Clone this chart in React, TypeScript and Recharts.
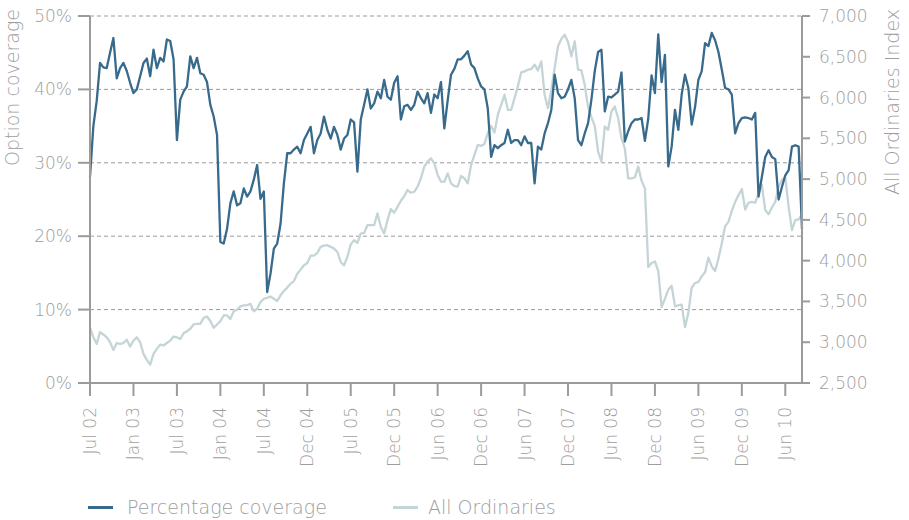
import { LineChart, Line, XAxis, YAxis, CartesianGrid } from 'recharts'

// tick labels, one every 13 points (26 weeks)
const tickLabels = [
  'Jul 02', 'Jan 03', 'Jul 03', 'Jan 04', 'Jul 04', 'Dec 04', 'Jul 05', 'Dec 05', 'Jun 06',
  'Dec 06', 'Jun 07', 'Dec 07', 'Jun 08', 'Dec 08', 'Jun 09', 'Dec 09', 'Jun 10'
]

// option coverage (%), fortnightly from Jul 2002
const coverage = [
  28.1, 35, 38.4, 43.6, 43, 42.9, 45, 47, 41.5, 42.9, 43.6, 42.5, 40.9,
  39.5, 40, 41.8, 43.6, 44.2, 41.8, 45.4, 42.9, 44.3, 43.8, 46.8, 46.6, 44.1,
  33.1, 38.6, 39.7, 40.4, 44.5, 42.9, 44.3, 42.2, 42, 41, 37.9, 36.3, 33.8,
  19.2, 19, 21, 24.5, 26.1, 24.2, 24.5, 26.5, 25.4, 26.1, 27.7, 29.7, 25.1,
  26.1, 12.4, 14.9, 18.3, 19, 21.7, 27.2, 31.3, 31.3, 31.8, 32.2, 31.3, 33.1,
  34, 34.9, 31.3, 33.1, 34, 36.3, 34.5, 33.3, 34.9, 33.8, 31.8, 33.3, 33.8,
  35.9, 35.5, 28.8, 35.9, 37.9, 40, 37.4, 38.1, 39.7, 38.8, 41.3, 39, 38.6,
  40.9, 41.8, 35.9, 37.7, 37.9, 37.2, 37.9, 39.7, 38.8, 38.1, 39.5, 36.8, 39.3,
  38.8, 41, 34.7, 38.5, 42, 42.8, 44.1, 44.1, 44.6, 45.2, 43.4, 42.9, 41.5,
  40.4, 40, 37.4, 30.8, 32.4, 32, 32.4, 32.7, 34.5, 32.7, 33.1, 33.1, 32.4,
  33.6, 32.7, 32.7, 27.2, 32.2, 31.8, 34, 35.4, 37.2, 42, 39.5, 38.8, 39,
  40, 41.3, 38.8, 33.1, 32.4, 34, 35.4, 38.6, 42.5, 45.1, 45.4, 37, 39,
  38.9, 39.3, 39.7, 42.3, 32.9, 34.3, 35.4, 35.9, 35.9, 36.1, 33, 36, 41.9,
  39.5, 47.5, 41, 44.7, 29.5, 32.2, 37.2, 34.5, 39.3, 42, 40.2, 35.2, 37.6,
  41.3, 42.5, 46.3, 45.9, 47.7, 46.7, 45.1, 42.7, 40.2, 40, 39.3, 34, 35.4,
  36.1, 36.2, 36.1, 35.9, 36.8, 25.4, 28.1, 30.8, 31.7, 30.8, 30.5, 25, 26.7,
  28.3, 29, 32.2, 32.4, 32.2, 21
]

// All Ordinaries index, same dates
const allOrds = [
  3180, 3060, 2980, 3123, 3095, 3060, 3000, 2906, 2990, 2980, 2990, 3030, 2947,
  3020, 3060, 3000, 2857, 2783, 2725, 2857, 2918, 2970, 2960, 2990, 3020, 3070,
  3060, 3040, 3110, 3135, 3165, 3218, 3225, 3225, 3300, 3316, 3260, 3177, 3218,
  3258, 3328, 3328, 3287, 3380, 3398, 3440, 3451, 3455, 3470, 3380, 3410, 3492,
  3533, 3545, 3560, 3533, 3505, 3575, 3628, 3670, 3718, 3750, 3840, 3890, 3943,
  3972, 4062, 4062, 4095, 4170, 4185, 4190, 4169, 4148, 4107, 3984, 3943, 4046,
  4200, 4250, 4218, 4333, 4340, 4435, 4435, 4435, 4580, 4415, 4333, 4497, 4632,
  4587, 4660, 4735, 4792, 4866, 4833, 4845, 4907, 5010, 5153, 5214, 5255, 5194,
  5050, 4968, 4968, 5070, 4948, 4915, 4907, 5038, 5010, 4948, 5173, 5296, 5419,
  5407, 5431, 5563, 5653, 5571, 5788, 5911, 6034, 5850, 5850, 5993, 6137, 6309,
  6321, 6342, 6350, 6403, 6333, 6444, 6034, 5870, 6096, 6362, 6629, 6719, 6770,
  6680, 6506, 6690, 6342, 6333, 6157, 5882, 5760, 5653, 5337, 5214, 5645, 5604,
  5829, 5891, 5747, 5501, 5378, 5010, 5010, 5022, 5153, 4981, 4886, 3923, 3972,
  3990, 3873, 3430, 3533, 3644, 3693, 3440, 3451, 3460, 3185, 3360, 3668, 3726,
  3738, 3808, 3857, 4037, 3931, 3873, 4025, 4210, 4423, 4476, 4612, 4718, 4804,
  4878, 4628, 4710, 4722, 4710, 4825, 4927, 4620, 4570, 4652, 4722, 4907, 4989,
  5022, 4660, 4374, 4497, 4505, 4570
]

const leftTicks = [0, 10, 20, 30, 40, 50]
const rightTicks = [2500, 3000, 3500, 4000, 4500, 5000, 5500, 6000, 6500, 7000]

const AXIS = '#9b9b9b'
const TEXT = '#9d9d9d'
const DARK = '#386a8b'
const LIGHT = '#c4d4d7'
const FONT = '"DejaVu Sans", sans-serif'

const data = coverage.map((v, i) => ({ idx: i, coverage: v, allOrds: allOrds[i] }))

// rotated date label under each tick
function DateTick({ x, y, payload }: any) {
  const label = tickLabels[payload.value / 13] ?? ''
  return (
    <g transform={`translate(${x},${y + 9})`}>
      <text x={0} y={0} dy={6} transform="rotate(-90)" textAnchor="end"
        fill={TEXT} fontSize={17} fontFamily={FONT} fontWeight={200}>
        {label}
      </text>
    </g>
  )
}

const tickStyle = { fill: TEXT, fontSize: 17, fontFamily: FONT, fontWeight: 200 }
const lineStyle = { stroke: AXIS, strokeWidth: 2 }

export default function App() {
  return (
    <div style={{ position: 'relative', width: 909, height: 520, fontFamily: FONT }}>
      <style>{'body { margin: 0; }'}</style>
      <LineChart width={909} height={483} data={data} margin={{ top: 16, right: 0, bottom: 0, left: 0 }}>
        <CartesianGrid yAxisId="left" vertical={false} stroke={AXIS} strokeDasharray="4 3" />
        <XAxis dataKey="idx" interval={12} tick={<DateTick />} height={100} tickSize={13}
          axisLine={lineStyle} tickLine={lineStyle} />
        <YAxis yAxisId="left" domain={[0, 50]} ticks={leftTicks} tickFormatter={(v) => `${v}%`}
          width={90} tickSize={12} tickMargin={6} tick={tickStyle}
          axisLine={lineStyle} tickLine={lineStyle} />
        <YAxis yAxisId="right" orientation="right" domain={[2500, 7000]} ticks={rightTicks}
          tickFormatter={(v) => v.toLocaleString('en-US')}
          width={107} tickSize={8} tickMargin={9} tick={tickStyle}
          axisLine={lineStyle} tickLine={lineStyle} />
        <Line yAxisId="right" dataKey="allOrds" stroke={LIGHT} strokeWidth={2.3} dot={false}
          strokeLinejoin="round" isAnimationActive={false} />
        <Line yAxisId="left" dataKey="coverage" stroke={DARK} strokeWidth={2.3} dot={false}
          strokeLinejoin="round" isAnimationActive={false} />
      </LineChart>

      {/* axis titles */}
      <svg width={909} height={240} style={{ position: 'absolute', left: 0, top: 0, pointerEvents: 'none' }}>
        <text transform="translate(18.5,9) rotate(-90)" textAnchor="end" fill={TEXT}
          fontSize={19} fontFamily={FONT} fontWeight={200}>Option coverage</text>
        <text transform="translate(899,9) rotate(-90)" textAnchor="end" fill={TEXT}
          fontSize={19} fontFamily={FONT} fontWeight={200}>All Ordinaries Index</text>
      </svg>

      {/* legend */}
      <div style={{ position: 'absolute', left: 0, top: 495, width: 909, height: 24, fontSize: 19, fontWeight: 200, color: TEXT, lineHeight: '24px', whiteSpace: 'nowrap' }}>
        <span style={{ position: 'absolute', left: 88, top: 11, width: 25, height: 3, background: DARK }} />
        <span style={{ position: 'absolute', left: 127, top: 0 }}>Percentage coverage</span>
        <span style={{ position: 'absolute', left: 393, top: 11, width: 25, height: 3, background: LIGHT }} />
        <span style={{ position: 'absolute', left: 428, top: 0 }}>All Ordinaries</span>
      </div>
    </div>
  )
}
